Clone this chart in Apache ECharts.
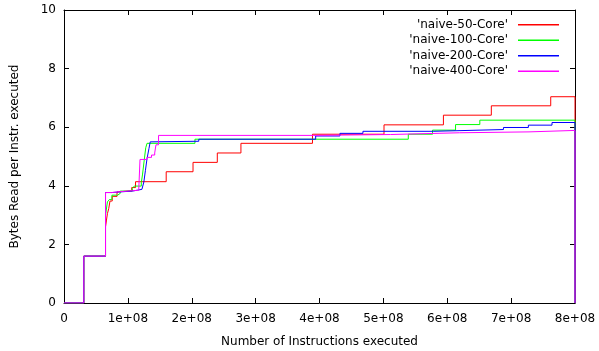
<!DOCTYPE html>
<html>
<head>
<meta charset="utf-8">
<script src="https://cdn.jsdelivr.net/npm/echarts@6/dist/echarts.min.js"></script>
<style>
  html, body { margin: 0; padding: 0; background: #fff; }
  #chart { width: 599px; height: 351px; }
</style>
</head>
<body>
<div id="chart"></div>
<script>
// x in units of 1e8 instructions, y = bytes read per instruction
const naive50 = [[0, 0], [0.31, 1.6], [0.65, 2.6], [0.665, 2.83], [0.68, 3.05], [0.70, 3.22], [0.72, 3.48],
  [0.755, 3.64], [0.83, 3.79], [0.86, 3.83], [1.06, 3.94], [1.12, 4.14], [1.60, 4.48], [2.02, 4.80],
  [2.40, 5.12], [2.77, 5.45], [3.89, 5.76], [5.01, 6.08], [5.94, 6.41], [6.69, 6.73], [7.62, 7.04], [8.0, 0]];
const naive100 = [[0, 0], [0.31, 1.6], [0.65, 3.0], [0.68, 3.45], [0.71, 3.53], [0.75, 3.68], [0.84, 3.74],
  [0.88, 3.82], [1.07, 3.91], [1.10, 3.99], [1.21, 4.1], [1.23, 4.4], [1.26, 4.95], [1.28, 5.3], [1.30, 5.45],
  [2.05, 5.59], [5.39, 5.76], [5.77, 5.90], [6.13, 6.09], [6.51, 6.24], [8.0, 0]];
const naive200 = [[0, 0], [0.31, 1.6], [0.65, 3.77], [0.75, 3.79], [0.87, 3.82], [1.07, 3.85], [1.15, 3.88],
  [1.22, 3.92], [1.25, 4.13], [1.275, 4.53], [1.30, 4.93], [1.33, 5.27], [1.35, 5.50], [1.37, 5.52],
  [2.11, 5.59], [3.94, 5.70], [4.32, 5.79], [4.68, 5.86], [5.78, 5.92], [6.88, 5.99], [7.27, 6.07],
  [7.64, 6.16], [8.0, 0]];
const naive400 = [[0, 0], [0.31, 1.6], [0.65, 3.77], [0.75, 3.80], [0.87, 3.83], [1.07, 3.85], [1.17, 3.88],
  [1.19, 4.90], [1.30, 4.97], [1.37, 5.05], [1.42, 5.12], [1.44, 5.4], [1.48, 5.72], [3.91, 5.75],
  [5.11, 5.81], [6.19, 5.84], [7.28, 5.89], [8.0, 0]];

const seriesNames = ["'naive-50-Core'", "'naive-100-Core'", "'naive-200-Core'", "'naive-400-Core'"];
const seriesData = [naive50, naive100, naive200, naive400];
const colors = ['#ff0000', '#00ff00', '#0000ff', '#ff00ff'];

const font = 'DejaVu Sans';
const chart = echarts.init(document.getElementById('chart'), null, { renderer: 'canvas' });

const axisLine = { show: true, onZero: false, lineStyle: { color: '#000', width: 1 } };
const axisTick = { show: true, inside: true, length: 5, lineStyle: { color: '#000' } };
const xFmt = v => (v === 0 ? '0' : Math.round(v / 1e8) + 'e+08');

const option = {
  animation: false,
  backgroundColor: '#fff',
  textStyle: { fontFamily: font },
  grid: { left: 64, right: 24, top: 10, bottom: 48, containLabel: false, outerBoundsMode: 'none' },
  legend: {
    data: seriesNames,
    orient: 'vertical',
    align: 'right',
    right: 40,
    top: 17,
    padding: 0,
    itemWidth: 41,
    itemHeight: 1.5,
    itemGap: 0,
    icon: 'rect',
    textStyle: { fontFamily: font, fontSize: 12, color: '#000', lineHeight: 15.5, padding: [0, 5, 0, 0] }
  },
  xAxis: [
    {
      type: 'value', min: 0, max: 8e8, interval: 1e8, position: 'bottom',
      name: 'Number of Instructions executed', nameLocation: 'middle', nameGap: 33,
      nameTextStyle: { fontFamily: font, fontSize: 12, color: '#000' },
      axisLine, axisTick,
      axisLabel: { color: '#000', fontFamily: font, fontSize: 12, margin: 10, formatter: xFmt },
      splitLine: { show: false }
    },
    {
      type: 'value', min: 0, max: 8e8, interval: 1e8, position: 'top',
      axisLine, axisTick, axisLabel: { show: false }, splitLine: { show: false }
    }
  ],
  yAxis: [
    {
      type: 'value', min: 0, max: 10, interval: 2, position: 'left',
      name: 'Bytes Read per Instr. executed', nameLocation: 'middle', nameGap: 43,
      nameTextStyle: { fontFamily: font, fontSize: 12, color: '#000' },
      axisLine, axisTick,
      axisLabel: { color: '#000', fontFamily: font, fontSize: 12, margin: 8 },
      splitLine: { show: false }
    },
    {
      type: 'value', min: 0, max: 10, interval: 2, position: 'right',
      axisLine, axisTick, axisLabel: { show: false }, splitLine: { show: false }
    }
  ],
  series: seriesNames.map((name, i) => ({
    name,
    type: 'line',
    step: 'end',
    xAxisIndex: 0,
    yAxisIndex: 0,
    showSymbol: false,
    symbol: 'none',
    color: colors[i],
    lineStyle: { color: colors[i], width: 1 },
    data: seriesData[i].map(p => [p[0] * 1e8, p[1]])
  }))
};

chart.setOption(option);
</script>
</body>
</html>
